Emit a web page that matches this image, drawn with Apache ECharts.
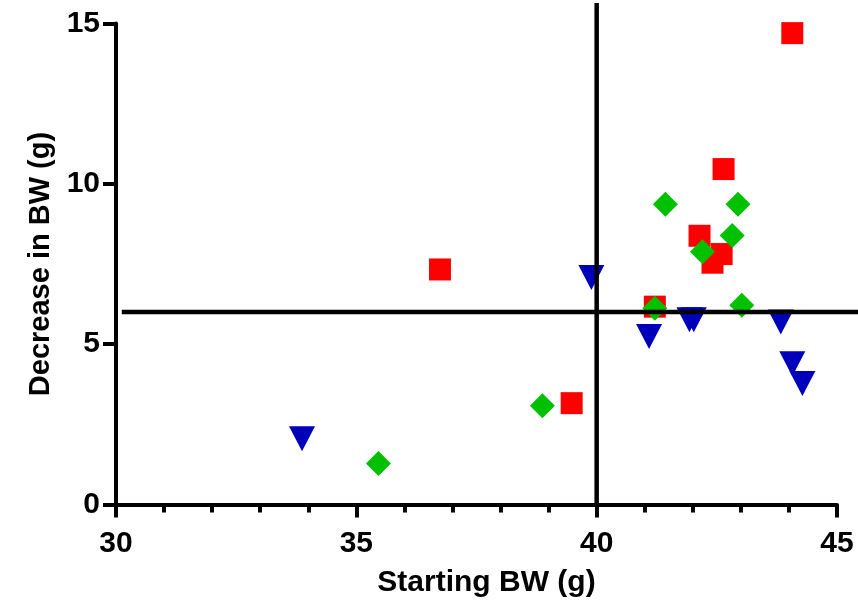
<!DOCTYPE html>
<html>
<head>
<meta charset="utf-8">
<script src="https://cdn.jsdelivr.net/npm/echarts@6/dist/echarts.min.js"></script>
<style>
html,body{margin:0;padding:0;background:#fff;}
#chart{width:858px;height:605px;}
</style>
</head>
<body>
<div id="chart"></div>
<script>
// Data
var xTicks = [30, 35, 40, 45];
var yTicks = [0, 5, 10, 15];
var redSquares = [
  [44.07, 14.70], [42.64, 10.46], [42.14, 8.38], [42.60, 7.81],
  [42.41, 7.54], [41.21, 6.17], [36.74, 7.33], [39.48, 3.16]
];
var greenDiamonds = [
  [41.43, 9.36], [42.94, 9.36], [42.82, 8.39], [42.20, 7.88],
  [41.21, 6.12], [43.02, 6.21], [38.87, 3.08], [35.46, 1.28]
];
var blueTriangles = [
  [39.89, 7.08], [41.93, 5.76], [42.02, 5.76], [41.09, 5.24],
  [43.83, 5.69], [44.07, 4.39], [44.28, 3.77], [33.87, 2.05]
];
// reference lines: [x1, y1, x2, y2]
var referenceLines = [
  [40, 0, 40, 15.64],
  [30.12, 6.0, 46.0, 6.0]
];

var font = "'Liberation Sans', Arial, sans-serif";
var chart = echarts.init(document.getElementById('chart'), null, {renderer: 'canvas'});
chart.setOption({
  animation: false,
  backgroundColor: '#ffffff',
  grid: {left: 116, right: 21, top: 23.5, bottom: 100.5, containLabel: false},
  xAxis: {
    type: 'value',
    min: xTicks[0], max: xTicks[xTicks.length - 1], interval: 5,
    name: 'Starting BW (g)',
    nameLocation: 'middle',
    nameGap: 63,
    nameTextStyle: {fontFamily: font, fontWeight: 'bold', fontSize: 30, color: '#000', padding: [0, 0, 0, 20]},
    axisLine: {show: true, onZero: false, lineStyle: {color: '#000', width: 4}},
    axisTick: {show: true, length: 13, lineStyle: {color: '#000', width: 4}},
    minorTick: {show: true, splitNumber: 5, length: 8, lineStyle: {color: '#000', width: 4}},
    axisLabel: {fontFamily: font, fontWeight: 'bold', fontSize: 30, color: '#000', margin: 24},
    splitLine: {show: false}
  },
  yAxis: {
    type: 'value',
    min: yTicks[0], max: yTicks[yTicks.length - 1], interval: 5,
    name: 'Decrease in BW (g)',
    nameLocation: 'middle',
    nameGap: 60,
    nameTextStyle: {fontFamily: font, fontWeight: 'bold', fontSize: 29, color: '#000'},
    axisLine: {show: true, onZero: false, lineStyle: {color: '#000', width: 4}},
    axisTick: {show: true, length: 13, lineStyle: {color: '#000', width: 4}},
    axisLabel: {fontFamily: font, fontWeight: 'bold', fontSize: 30, color: '#000', margin: 16},
    splitLine: {show: false}
  },
  series: [
    {
      type: 'scatter', data: redSquares, symbol: 'rect', symbolSize: 22,
      itemStyle: {color: '#ff0000', opacity: 1}, z: 2
    },
    {
      type: 'scatter', data: greenDiamonds, symbol: 'diamond', symbolSize: 25,
      itemStyle: {color: '#00c000', opacity: 1}, z: 3
    },
    {
      type: 'scatter', data: blueTriangles, symbol: 'triangle', symbolSize: [26, 25], symbolRotate: 180,
      itemStyle: {color: '#0000bb', opacity: 1}, z: 4
    },
    {
      type: 'custom', data: referenceLines, clip: false, silent: true, z: 5,
      encode: {x: [0, 2], y: [1, 3]},
      renderItem: function (params, api) {
        var p1 = api.coord([api.value(0), api.value(1)]);
        var p2 = api.coord([api.value(2), api.value(3)]);
        return {
          type: 'line',
          shape: {x1: p1[0], y1: p1[1], x2: p2[0], y2: p2[1]},
          style: {stroke: '#000', lineWidth: 4.5}
        };
      }
    }
  ]
});
</script>
</body>
</html>
